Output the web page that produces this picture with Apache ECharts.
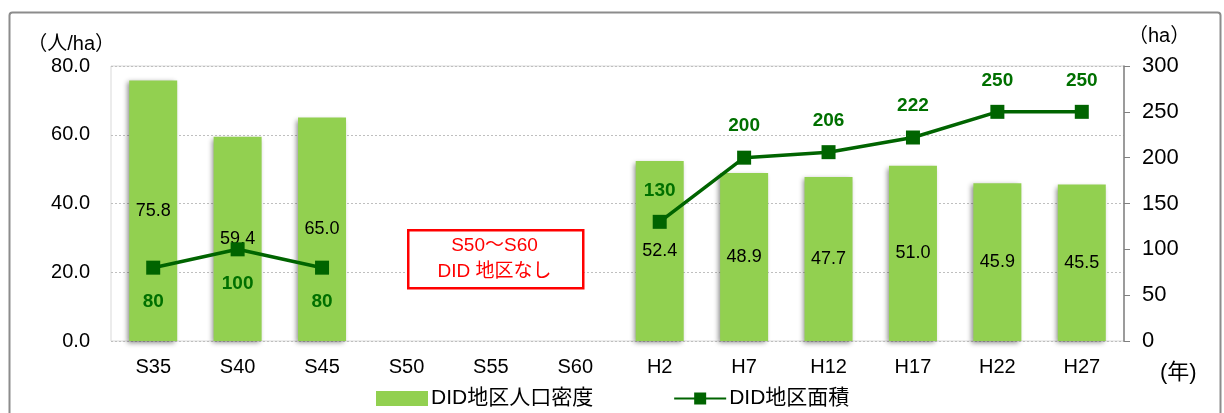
<!DOCTYPE html>
<html><head><meta charset="utf-8">
<script src="https://cdn.jsdelivr.net/npm/echarts@6/dist/echarts.min.js"></script>
<style>html,body{margin:0;padding:0;background:#fff}#c{width:1224px;height:413px}</style>
</head><body><div id="c"></div>
<script>
const categories = ['S35','S40','S45','S50','S55','S60','H2','H7','H12','H17','H22','H27'];
const density = [75.8,59.4,65.0,null,null,null,52.4,48.9,47.7,51.0,45.9,45.5];
const area = [80,100,80,null,null,null,130,200,206,222,250,250];
const areaLabelBelow = [true,true,true,false,false,false,false,false,false,false,false,false];
const densityName = 'DID地区人口密度';
const areaName = 'DID地区面積';
const leftTicks = [0,20,40,60,80];
const rightTicks = [0,50,100,150,200,250,300];
const noteLines = ['S50〜S60','DID 地区なし'];

const FONT = '"Liberation Sans","Noto Sans CJK JP",sans-serif';
const chart = echarts.init(document.getElementById('c'));
chart.setOption({
  animation:false,
  grid:{left:111,right:100,top:66,bottom:72,show:true,borderColor:'#d9d9d9',borderWidth:1,backgroundColor:'transparent'},
  legend:{top:383,left:371,itemGap:80,textStyle:{fontSize:21,fontFamily:FONT,color:'#000',padding:[0,0,0,-2]},
    data:[{name:densityName,icon:'rect'},{name:areaName}],
    itemWidth:52,itemHeight:15},
  xAxis:{type:'category',data:categories,
    axisLine:{show:false},axisTick:{show:false},
    axisLabel:{fontSize:20,color:'#000',fontFamily:FONT,margin:16}},
  yAxis:[
    {type:'value',min:leftTicks[0],max:leftTicks[leftTicks.length-1],interval:20,
      name:'（人/ha）',nameLocation:'end',nameGap:12,nameTextStyle:{fontSize:20,color:'#000',fontFamily:FONT,align:'right',padding:[0,-4,0,0]},
      axisLine:{show:false},axisTick:{show:false},
      axisLabel:{fontSize:20,color:'#000',fontFamily:FONT,margin:21,formatter:v=>v.toFixed(1)},
      splitLine:{lineStyle:{color:'#bfbfbf',type:[2,2]}}},
    {type:'value',min:rightTicks[0],max:rightTicks[rightTicks.length-1],interval:50,position:'right',
      name:'（ha）',nameLocation:'end',nameGap:20,nameTextStyle:{fontSize:20,color:'#000',fontFamily:FONT,align:'left',padding:[0,0,0,4]},
      axisLine:{show:true,lineStyle:{color:'#808080',width:1.5}},
      axisTick:{show:true,length:6,lineStyle:{color:'#808080'}},
      axisLabel:{fontSize:22,color:'#000',fontFamily:FONT,margin:18},
      splitLine:{show:false}}
  ],
  series:[
    {name:densityName,type:'bar',data:density,barWidth:48,yAxisIndex:0,
      itemStyle:{color:'#92d050',shadowColor:'rgba(0,0,0,0.45)',shadowBlur:5,shadowOffsetX:-2,shadowOffsetY:2},
      label:{show:true,position:'inside',color:'#000',fontSize:18,fontFamily:FONT,formatter:p=>p.value==null?'':p.value.toFixed(1)}},
    {name:areaName,type:'line',yAxisIndex:1,connectNulls:false,
      data:area.map((v,i)=>({value:v,label:{position:areaLabelBelow[i]?'bottom':'top',distance:areaLabelBelow[i]?18:15}})),
      symbol:'rect',symbolSize:14,lineStyle:{color:'#006400',width:3.5},itemStyle:{color:'#006400'},
      label:{show:true,color:'#007000',fontWeight:'bold',fontSize:19,fontFamily:FONT}}
  ],
  graphic:[
    {type:'rect',left:7,top:10,shape:{width:1211,height:420,r:3},style:{fill:'none',stroke:'#8c8c8c',lineWidth:2},silent:true},
    {type:'rect',left:407,top:229,shape:{width:175,height:58},style:{fill:'#fff',stroke:'#ff0000',lineWidth:2.5},z:10},
    {type:'text',x:494.5,y:233,style:{text:noteLines.join('\n'),fill:'#ff0000',font:'19px '+FONT,align:'center',textAlign:'center',lineHeight:26},z:11},
    {type:'text',left:1160,top:362,style:{text:'(年)',fill:'#000',font:'22px '+FONT},z:11}
  ]
});
</script></body></html>
